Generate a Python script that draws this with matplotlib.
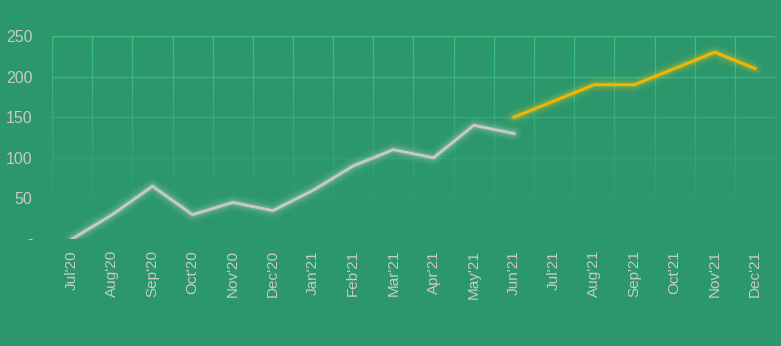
import numpy as np
import matplotlib.pyplot as plt
from matplotlib.collections import LineCollection

months = ["Jul'20", "Aug'20", "Sep'20", "Oct'20", "Nov'20", "Dec'20",
          "Jan'21", "Feb'21", "Mar'21", "Apr'21", "May'21", "Jun'21",
          "Jul'21", "Aug'21", "Sep'21", "Oct'21", "Nov'21", "Dec'21"]
actual = [0, 30, 65, 30, 45, 35, 60, 90, 110, 100, 140, 130]
forecast = [150, 170, 190, 190, 210, 230, 210]
forecast_start = 11  # Jun'21
yticks = [0, 50, 100, 150, 200, 250]
ytick_labels = ["-", "50", "100", "150", "200", "250"]

bg = "#2c976d"
txt = "#c9c9c9"

plt.rcParams['font.family'] = ['Liberation Sans', 'DejaVu Sans']

fig = plt.figure(figsize=(7.81, 3.46), dpi=100, facecolor=bg)
ax = fig.add_axes([52 / 781, 1 - 239 / 346, (775 - 52) / 781, (239 - 36) / 346])
ax.set_facecolor(bg)

n = len(months)
ax.set_xlim(-0.5, n - 0.5)
ax.set_ylim(0, 250)

# fading grid (strong at top, vanishing at bottom)
steps = 40
segs, cols = [], []
for xb in np.arange(-0.5, n, 1.0):
    ys = np.linspace(0, 250, steps + 1)
    for i in range(steps):
        segs.append([(xb, ys[i]), (xb, ys[i + 1])])
        a = min(1.0, max(0.0, (ys[i] + ys[i + 1]) / 2 / 250)) ** 1.3
        cols.append((0.243, 0.765, 0.518, a))
for yv in yticks[1:]:
    a = (yv / 250) ** 1.3
    segs.append([(-0.5, yv), (n - 0.5, yv)])
    cols.append((0.243, 0.765, 0.518, a))
ax.add_collection(LineCollection(segs, colors=cols, linewidths=0.9, zorder=1))

x1 = np.arange(len(actual))
x2 = np.arange(forecast_start, forecast_start + len(forecast))

# glow
for w, a in [(12, 0.04), (9, 0.06), (6, 0.1), (4, 0.15)]:
    ax.plot(x1, actual, color="#e0e0e0", lw=w, alpha=a, solid_capstyle='round', zorder=2)
    ax.plot(x2, forecast, color="#ffd21a", lw=w, alpha=a, solid_capstyle='round', zorder=2)
ax.plot(x1, actual, color="#c9c9c9", lw=2, zorder=3)
ax.plot(x2, forecast, color="#f7b500", lw=2, zorder=3)

ax.set_xticks(np.arange(n))
ax.set_xticklabels(months, rotation=90, color=txt, fontsize=11)
ax.set_yticks(yticks)
ax.set_yticklabels(ytick_labels, color=txt, fontsize=11.5)
ax.tick_params(axis='x', length=0, pad=8)
ax.tick_params(axis='y', length=0, pad=14)
for s in ax.spines.values():
    s.set_visible(False)

fig.savefig("out.png", dpi=100, facecolor=bg)
